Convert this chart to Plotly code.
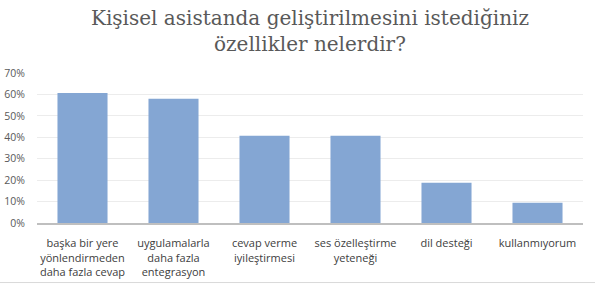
import plotly.graph_objects as go

categories = [
    "başka bir yere<br>yönlendirmeden<br>daha fazla cevap",
    "uygulamalarla<br>daha fazla<br>entegrasyon",
    "cevap verme<br>iyileştirmesi",
    "ses özelleştirme<br>yeteneği",
    "dil desteği",
    "kullanmıyorum",
]
values = [0.607, 0.58, 0.407, 0.407, 0.188, 0.095]
tick_vals = [0, 0.1, 0.2, 0.3, 0.4, 0.5, 0.6, 0.7]
tick_text = ["0%", "10%", "20%", "30%", "40%", "50%", "60%", "70%"]
title_text = "Kişisel asistanda geliştirilmesini istediğiniz<br>özellikler nelerdir?"

fig = go.Figure(go.Bar(x=categories, y=values, marker_color="#84a6d3", marker_line_width=0))

fig.update_layout(
    width=595, height=285,
    margin=dict(l=37, r=12, t=73, b=62),
    paper_bgcolor="white", plot_bgcolor="white",
    bargap=0.45,
    showlegend=False,
    font=dict(family="Open Sans, Liberation Sans, sans-serif", size=10, color="#595959"),
)
fig.add_annotation(text=title_text, xref="paper", yref="paper", x=0.5, y=1.28,
                   xanchor="center", yanchor="middle", showarrow=False,
                   font=dict(family="DejaVu Serif, serif", size=20, color="#595959"))
fig.update_yaxes(range=[0, 0.7], tickvals=tick_vals, ticktext=tick_text,
                 showgrid=True, gridcolor="#ececec", gridwidth=1, automargin=False,
                 zeroline=False, showline=False, ticks="", ticklabelstandoff=11,
                 tickfont=dict(size=10.5, color="#595959"))
fig.update_xaxes(showline=True, linecolor="#bfbfbf", linewidth=2, ticks="", automargin=False,
                 ticklabelstandoff=9,
                 tickangle=0, tickfont=dict(size=11, color="#404040"))
fig.add_shape(type="line", xref="paper", yref="paper", x0=-0.07, x1=1.03, y0=-0.397, y1=-0.397,
              line=dict(color="#d9d9d9", width=1))

fig.write_html("out.html")
